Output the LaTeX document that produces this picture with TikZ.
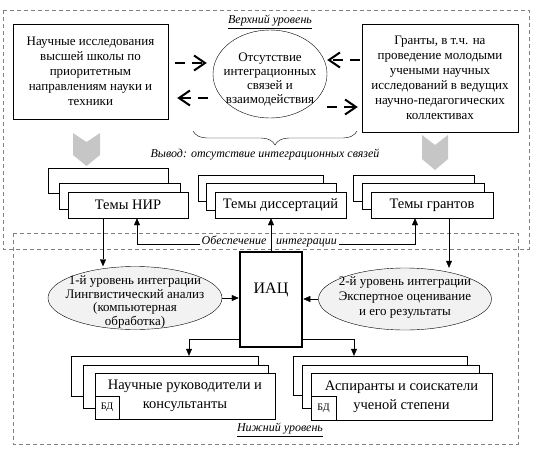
\documentclass[tikz,border=0pt]{standalone}
\usepackage{fontspec}
\setmainfont{Liberation Serif}
\usetikzlibrary{shapes.geometric,arrows.meta,decorations.pathreplacing}

\begin{document}
\begin{tikzpicture}[x=1pt, y=-1pt,
    region/.style={draw=gray, dash pattern=on 4pt off 3pt, line width=0.8pt},
    txtbox/.style={draw, fill=white, align=center, inner sep=1pt, font=\fontsize{13}{15}\selectfont},
    layer/.style={draw, fill=white, inner sep=0pt},
    theme/.style={layer, align=center, font=\fontsize{14.5}{19}\selectfont},
    oval/.style={ellipse, draw, inner sep=0pt},
    ovaltext/.style={align=center, inner sep=0pt, font=\fontsize{13}{13.5}\selectfont},
    dasharrow/.style={line width=2pt, dash pattern=on 10pt off 7pt, -{Straight Barb[length=11pt, width=15pt]}},
    arr/.style={-{Triangle[length=7pt, width=6pt]}},
    chevron/.style={fill=gray!45},
    lbl/.style={font=\fontsize{12}{14}\selectfont\itshape}
  ]
    \useasboundingbox (0,0) rectangle (541,448);

    % Upper and lower levels
    \draw[region] (3,10) rectangle (529,249);
    \draw[region] (13,233) rectangle (518,444);

    % Upper level
    \node[lbl] (upper) at (270,22) {\underline{Верхний уровень}};
    \node[txtbox, minimum width=155pt, minimum height=95pt] (sci) at (90.5,71.5)
        {Научные исследования\\высшей школы по\\приоритетным\\направлениям науки и\\техники};
    \node[oval, fill=white, minimum width=114pt, minimum height=88pt] (lack) at (270,74) {};
    \node[ovaltext, font=\fontsize{13}{14}\selectfont] (lacktext) at (270,79)
        {Отсутствие\\интеграционных\\связей и\\взаимодействия};
    \node[txtbox, minimum width=156pt, minimum height=108pt] (grant) at (440,78)
        {Гранты, в т.ч. на\\проведение молодыми\\учеными научных\\исследований в ведущих\\научно-педагогических\\коллективах};

    % Dashed arrows between boxes and circle
    \draw[dasharrow, shorten <=7pt, shorten >=6pt] ([yshift=8.5pt]sci.east) -- ([yshift=8.5pt]sci.east -| lack.west);
    \draw[dasharrow, shorten <=5pt, shorten >=9pt] ([yshift=-26.5pt]sci.east -| lack.west) -- ([yshift=-26.5pt]sci.east);
    \draw[dasharrow, shorten <=2pt] ([yshift=18pt]grant.west) -- ([yshift=18pt]grant.west -| lack.east);
    \draw[dasharrow, shorten >=4pt] ([yshift=-29pt]grant.west -| lack.east) -- ([yshift=-29pt]grant.west);

    % Brace and conclusion
    \draw[decorate, decoration={brace, mirror, amplitude=14pt}] (193,131) -- (357,131);
    \node[lbl] (concl) at (265,155) {Вывод: отсутствие интеграционных связей};

    % Gray chevrons
    \fill[chevron] (73,133) -- (86.5,142) -- (100,133) -- (100,155) -- (86.5,166) -- (73,155) -- cycle;
    \fill[chevron] (422,135) -- (435,145) -- (448,135) -- (448,159) -- (435,170) -- (422,159) -- cycle;

    % Stacked theme boxes
    \node[layer, minimum width=120pt, minimum height=25pt] (nir3) at (108,180.5) {};
    \node[layer, minimum width=121pt, minimum height=26pt] (nir2) at (119.5,196) {};
    \node[theme, minimum width=120pt, minimum height=26pt] (nir) at (128,205) {Темы НИР};

    \node[layer, minimum width=125pt, minimum height=26pt] (dis3) at (260.5,188) {};
    \node[layer, minimum width=130pt, minimum height=27pt] (dis2) at (271,196.5) {};
    \node[theme, minimum width=131pt, minimum height=26pt] (dis) at (280.5,205) {Темы диссертаций};

    \node[layer, minimum width=121pt, minimum height=26pt] (gra3) at (413.5,188) {};
    \node[layer, minimum width=122pt, minimum height=26pt] (gra2) at (423,196) {};
    \node[theme, minimum width=122pt, minimum height=26pt] (gra) at (432,205) {Темы грантов};

    % Lower level
    \node[oval, fill=gray!10, minimum width=174pt, minimum height=63pt] (lvl1) at (135,298) {};
    \node[ovaltext] (lvl1text) at (135,302)
        {1-й уровень интеграции\\Лингвистический анализ\\(компьютерная\\обработка)};
    \node[oval, fill=gray!10, minimum width=173pt, minimum height=62pt] (lvl2) at (405,299) {};
    \node[ovaltext, font=\fontsize{13}{15}\selectfont] (lvl2text) at (405,297)
        {2-й уровень интеграции\\Экспертное оценивание\\и его результаты};
    \node[draw, fill=white, line width=2.5pt, minimum width=62pt, minimum height=95pt,
          text height=11pt, text depth=23pt, font=\fontsize{16}{18}\selectfont] (iac) at (271,299.5) {ИАЦ};

    \node[layer, minimum width=187pt, minimum height=40pt] (ruk3) at (164.5,376) {};
    \node[layer, minimum width=185pt, minimum height=43pt] (ruk2) at (175.5,386.5) {};
    \node[theme, minimum width=180pt, minimum height=46pt] (ruk) at (185,396) {Научные руководители и\\консультанты};
    \node[layer, anchor=south west, minimum width=24pt, minimum height=23pt,
          font=\fontsize{10}{12}\selectfont] (rukdb) at (ruk.south west) {БД};

    \node[layer, minimum width=174pt, minimum height=39pt] (asp3) at (380,375.5) {};
    \node[layer, minimum width=177pt, minimum height=43pt] (asp2) at (390.5,386.5) {};
    \node[theme, minimum width=181pt, minimum height=47pt] (asp) at (401.5,396.5) {Аспиранты и соискатели\\ученой степени};
    \node[layer, anchor=south west, minimum width=25pt, minimum height=24pt,
          font=\fontsize{10}{12}\selectfont] (aspdb) at (asp.south west) {БД};

    % Connectors
    \node[lbl, inner sep=1.5pt, anchor=base] (prov1) at (234,244) {Обеспечение};
    \node[lbl, inner sep=1.5pt, anchor=base] (prov2) at (306.5,244) {интеграции};
    \draw[arr] (iac.north) -- (iac.north |- dis.south);
    \draw[arr] (prov1.base west) -| ([xshift=9pt]nir.south);
    \draw[arr] (prov2.base east) -| ([xshift=-17pt]gra.south);

    \draw[arr] ([xshift=-25pt]nir.south) -- ([xshift=-25pt]nir.south |- lvl1.north);
    \draw[arr] ([xshift=17pt]gra.south) -- ([xshift=17pt]gra.south |- lvl2.north);
    \draw[arr] (lvl1.east) -- (lvl1.east -| iac.west);
    \draw[arr] (lvl2.west) -- (lvl2.west -| iac.east);
    \draw[arr] ([yshift=-39.5pt]iac.west) -| ([xshift=24.5pt]ruk3.north);
    \draw[arr] ([yshift=-39.5pt]iac.east) -| ([xshift=-26pt]asp3.north);

    \node[lbl] (lower) at (280,430) {\underline{Нижний уровень}};
\end{tikzpicture}
\end{document}
